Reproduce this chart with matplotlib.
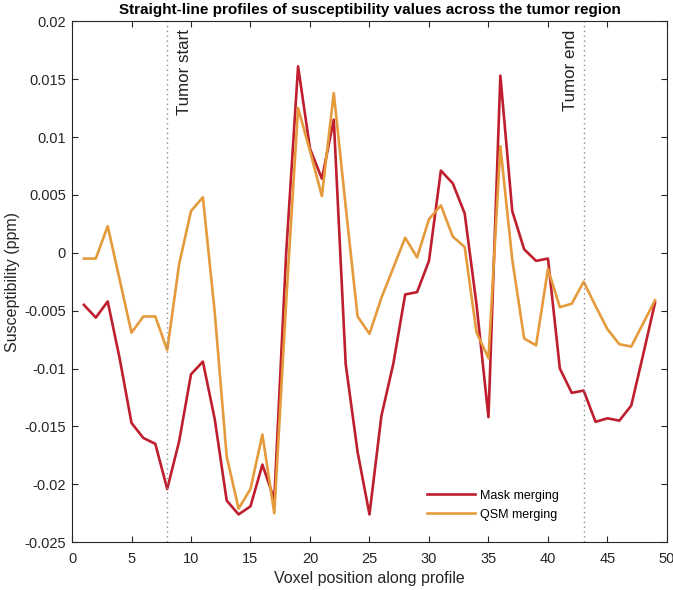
import numpy as np
import matplotlib.pyplot as plt
from matplotlib.ticker import FuncFormatter

plt.rcParams['font.family'] = ['Liberation Sans', 'DejaVu Sans']
plt.rcParams['axes.unicode_minus'] = False

# voxel index along the profile
pos = np.arange(1, 50)
mask_merging = [-0.0045, -0.0056, -0.0042, -0.0091, -0.0147, -0.0160, -0.0165, -0.0204, -0.0163, -0.0105,
                -0.0094, -0.0144, -0.0214, -0.0226, -0.0219, -0.0183, -0.0213, 0.0000, 0.0161, 0.0090,
                0.0064, 0.0115, -0.0096, -0.0172, -0.0226, -0.0141, -0.0096, -0.0036, -0.0034, -0.0007,
                0.0071, 0.0060, 0.0034, -0.0045, -0.0142, 0.0153, 0.0036, 0.0003, -0.0007, -0.0005,
                -0.0100, -0.0121, -0.0119, -0.0146, -0.0143, -0.0145, -0.0132, -0.0088, -0.0043]
qsm_merging = [-0.0005, -0.0005, 0.0023, -0.0023, -0.0069, -0.0055, -0.0055, -0.0084, -0.0010, 0.0036,
               0.0048, -0.0052, -0.0176, -0.0221, -0.0204, -0.0157, -0.0225, -0.0042, 0.0125, 0.0088,
               0.0049, 0.0138, 0.0040, -0.0055, -0.0070, -0.0039, -0.0013, 0.0013, -0.0004, 0.0029,
               0.0041, 0.0014, 0.0005, -0.0069, -0.0091, 0.0092, -0.0006, -0.0074, -0.0080, -0.0014,
               -0.0047, -0.0044, -0.0025, -0.0046, -0.0066, -0.0079, -0.0081, -0.0061, -0.0041]
tumor_start = 8
tumor_end = 43

axc = '#262626'
fig = plt.figure(figsize=(6.73, 5.9), dpi=100)
ax = fig.add_axes([0.107, 0.081, 0.884, 0.883])

ax.plot(pos, mask_merging, color='#BE1E2D', lw=1.9, label='Mask merging')
ax.plot(pos, qsm_merging, color='#E59A3C', lw=1.9, label='QSM merging')

for xv in (tumor_start, tumor_end):
    ax.axvline(xv, color='#8c8c8c', ls=(0, (1, 2.5)), lw=1.0)
ax.text(tumor_start + 1.45, 0.0193, 'Tumor start', rotation=90, ha='center', va='top',
        fontsize=12.2, color='#222222')
ax.text(tumor_end - 1.1, 0.0193, 'Tumor end', rotation=90, ha='center', va='top',
        fontsize=12.2, color='#222222')

ax.set_xlim(0, 50)
ax.set_ylim(-0.025, 0.02)
ax.set_xticks(np.arange(0, 51, 5))
ax.set_yticks(np.arange(-0.025, 0.0201, 0.005))
ax.yaxis.set_major_formatter(FuncFormatter(lambda v, p: '%g' % round(v, 4)))
ax.tick_params(direction='in', top=True, right=True, labelsize=10.5, colors=axc, length=4)
ax.tick_params(axis='x', pad=7)
ax.tick_params(axis='y', pad=4.5)
for s in ax.spines.values():
    s.set_color(axc)
    s.set_linewidth(0.8)

ax.set_xlabel('Voxel position along profile', fontsize=11.5, color=axc, labelpad=4)
ax.set_ylabel('Susceptibility (ppm)', fontsize=11.5, color=axc)
ax.yaxis.set_label_coords(-0.088, 0.5)
ax.set_title('Straight-line profiles of susceptibility values across the tumor region',
             fontsize=11, fontweight='bold', pad=5)

ax.legend(loc='lower left', bbox_to_anchor=(0.578, 0.02), frameon=False, fontsize=9,
          handlelength=3.85, labelspacing=0.55, handletextpad=0.4)

fig.savefig('out.png', dpi=100)
